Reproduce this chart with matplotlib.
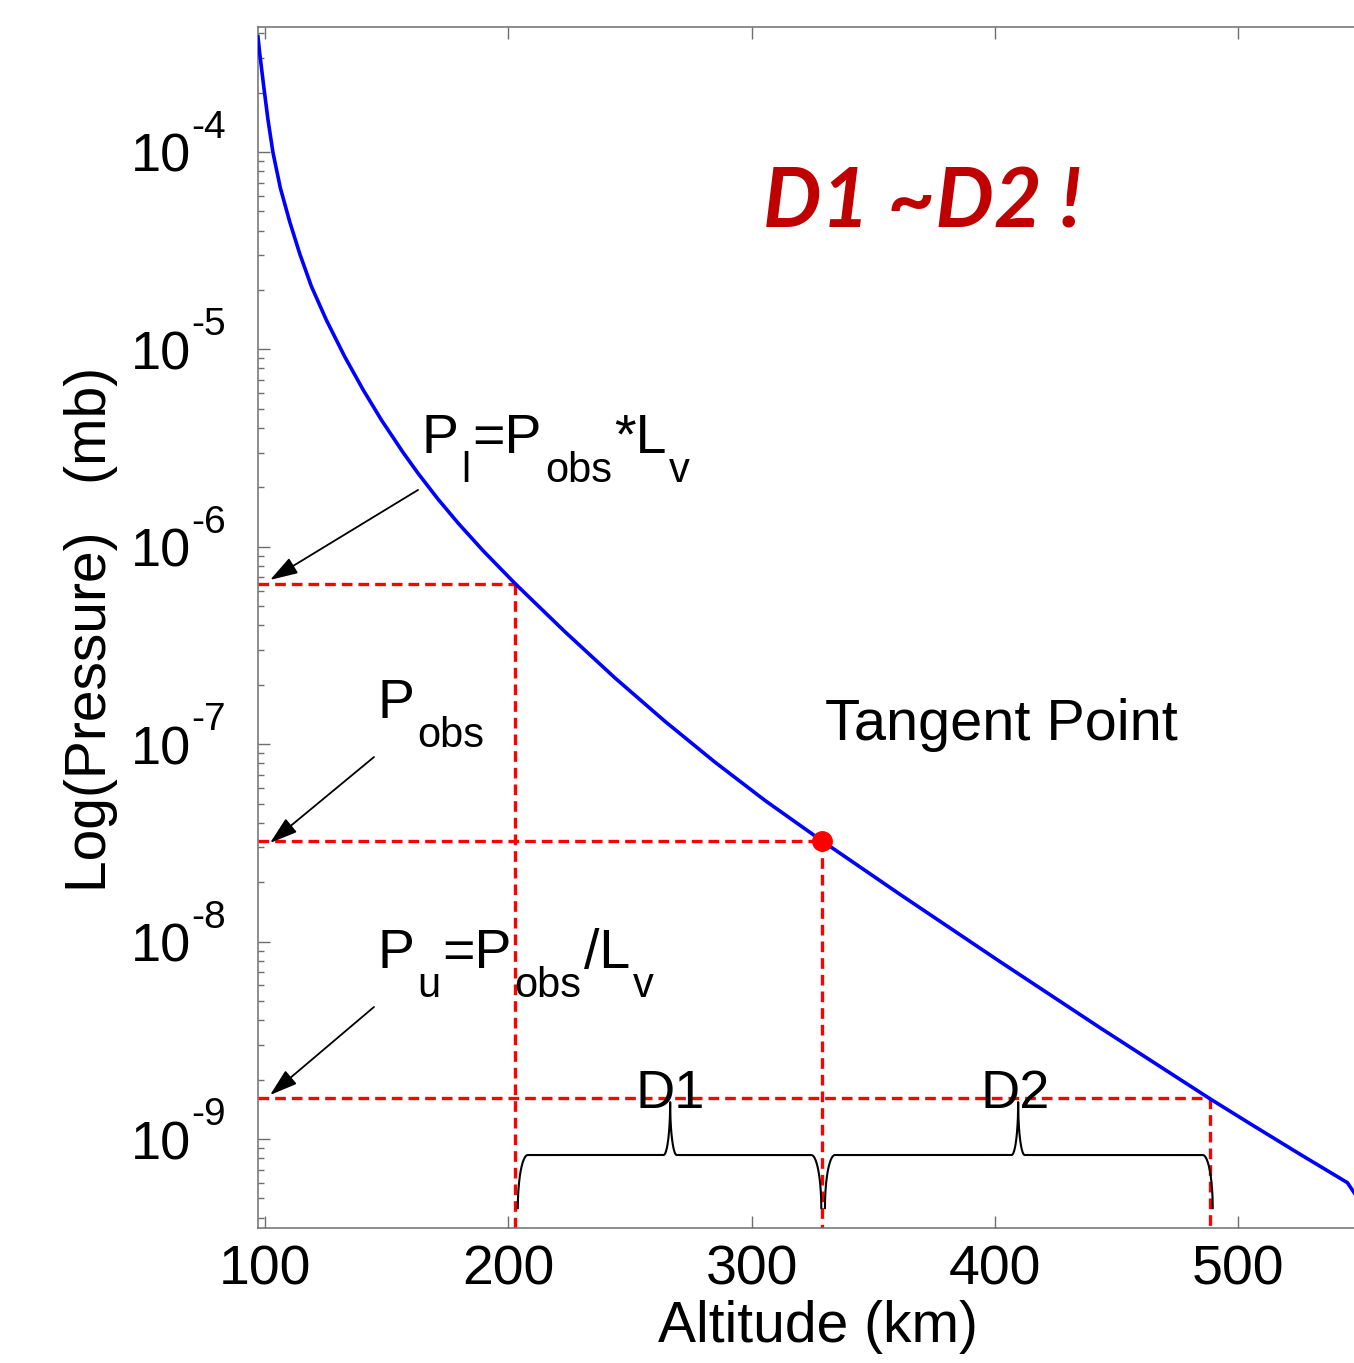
import numpy as np
import matplotlib
matplotlib.use("Agg")
import matplotlib.pyplot as plt
from matplotlib.ticker import LogLocator, NullLocator, FixedLocator
from matplotlib.transforms import offset_copy

plt.rcParams["font.family"] = ["Liberation Sans", "DejaVu Sans"]

# pressure profile (altitude km, log10 pressure mb)
altitude = [97.12, 97.82, 99.47, 101.23, 103.29, 106.33, 110.16, 114.27, 119.08, 125.25,
            132.77, 140.30, 147.86, 156.74, 162.91, 171.13, 179.36, 189.64, 202.67, 223.23,
            243.79, 264.35, 284.91, 305.47, 328.91, 360.98, 402.10, 443.22, 488.45, 504.90,
            525.45, 544.78, 547.66]
log_pressure = [-3.416, -3.498, -3.666, -3.836, -4.003, -4.183, -4.353, -4.515, -4.681, -4.852,
                -5.037, -5.204, -5.358, -5.522, -5.628, -5.759, -5.880, -6.020, -6.185, -6.430,
                -6.664, -6.884, -7.091, -7.285, -7.490, -7.761, -8.102, -8.437, -8.797, -8.923,
                -9.078, -9.221, -9.274]
pressure = [10 ** v for v in log_pressure]

# tangent point and the two limits
P_obs = 10 ** -7.49
L_v = 20.0
P_l = P_obs * L_v
P_u = P_obs / L_v
z_l, z_tan, z_u = 202.7, 328.9, 488.45

x_ticks = [100, 200, 300, 400, 500]
y_decades = [-4, -5, -6, -7, -8, -9]
xlim = (97, 550)
ylim = (10 ** -9.451, 10 ** -3.367)

RED = "#ff0000"
GREY = "#6e6e6e"


def brace(ax, x0, x1, xm, yb, yh, yt, r_end=4.1, r_mid=2.7):
    """Curly brace in (linear x, log10 y) space, tip pointing up."""
    th = np.linspace(0, np.pi / 2, 40)
    xa = x0 + r_end * (1 - np.cos(th))
    ya = yb + (yh - yb) * np.sin(th)
    xb = xm - r_mid + r_mid * np.sin(th)
    yb2 = yh + (yt - yh) * (1 - np.cos(th))
    xc = xm + r_mid - r_mid * np.sin(th[::-1])
    yc = yh + (yt - yh) * (1 - np.cos(th[::-1]))
    xd = x1 - r_end * (1 - np.cos(th[::-1]))
    yd = yb + (yh - yb) * np.sin(th[::-1])
    xs = np.concatenate([xa, xb, xc, xd])
    ys = np.concatenate([ya, yb2, yc, yd])
    ax.plot(xs, 10 ** ys, color="black", lw=1.5, zorder=4)


def chain_text(ax, x, y, pieces, renderer):
    """Write pieces (text, size, dy in px) one after the other, TeX-like subscripts."""
    dx = 0.0
    for s, size, dy in pieces:
        tr = offset_copy(ax.transData, fig=ax.figure, x=dx, y=dy, units="dots")
        t = ax.text(x, y, s, fontsize=size, transform=tr, ha="left", va="baseline", zorder=6)
        dx += t.get_window_extent(renderer).width + size * 0.07


fig = plt.figure(figsize=(13.54, 13.63), dpi=100)
renderer = fig.canvas.get_renderer()
ax = fig.add_axes([0.1903, 0.0990, 0.8142, 0.8812])
ax.set_yscale("log")
ax.set_xlim(*xlim)
ax.set_ylim(*ylim)

ax.plot(altitude, pressure, color="#0000ff", lw=2.6, zorder=3)

dash = dict(color=RED, lw=2.4, dashes=(3.2, 1.8), zorder=2)
for z, p in [(z_l, P_l), (z_tan, P_obs), (z_u, P_u)]:
    ax.plot([xlim[0], z], [p, p], **dash)
    ax.plot([z, z], [p, ylim[0]], **dash)

ax.plot([z_tan], [P_obs], "o", color=RED, ms=14, zorder=5)

# braces under the two distances
brace(ax, z_l + 1.2, z_tan - 0.3, 266.5, -9.350, -9.081, -8.813)
brace(ax, z_tan + 1.2, z_u + 1.0, 409.5, -9.350, -9.081, -8.813)
ax.text(266.5, 10 ** -8.843, "D1", fontsize=39, ha="center", va="baseline", zorder=6)
ax.text(408.3, 10 ** -8.843, "D2", fontsize=39, ha="center", va="baseline", zorder=6)

# labels with arrows
arrow = dict(arrowstyle="-|>,head_length=0.85,head_width=0.27", color="black",
             lw=1.3, mutation_scale=20, shrinkA=0, shrinkB=0)
ax.annotate("", xy=(102.1, 10 ** -6.168), xytext=(162.9, 10 ** -5.712), arrowprops=arrow)
ax.annotate("", xy=(102.1, 10 ** -7.500), xytext=(144.8, 10 ** -7.065), arrowprops=arrow)
ax.annotate("", xy=(102.1, 10 ** -8.777), xytext=(144.8, 10 ** -8.331), arrowprops=arrow)

SUB = -29
chain_text(ax, 164.4, 10 ** -5.525,
           [("P", 40, 0), ("l", 30, SUB), ("=P", 40, 0), ("obs", 30, SUB),
            ("*L", 40, 0), ("v", 30, SUB)], renderer)
chain_text(ax, 146.3, 10 ** -6.867, [("P", 40, 0), ("obs", 30, SUB)], renderer)
chain_text(ax, 146.3, 10 ** -8.134,
           [("P", 40, 0), ("u", 30, SUB), ("=P", 40, 0), ("obs", 30, SUB),
            ("/L", 40, 0), ("v", 30, SUB)], renderer)

ax.text(330.2, 10 ** -6.979, "Tangent Point", fontsize=41.5, va="baseline", ha="left")
ax.text(304.5, 10 ** -4.385, "D1 ~D2 !", fontsize=59.5, va="baseline", ha="left",
        color="#c00000", fontweight="bold", fontstyle="italic", family=["Lato", "DejaVu Sans"])

ax.xaxis.set_major_locator(FixedLocator(x_ticks))
ax.xaxis.set_minor_locator(NullLocator())
ax.yaxis.set_major_locator(FixedLocator([10.0 ** e for e in y_decades]))
ax.yaxis.set_minor_locator(LogLocator(base=10, subs=np.arange(2, 10), numticks=20))

ax.tick_params(which="both", direction="in", top=True, right=False, color=GREY, width=1.0)
ax.tick_params(which="major", length=8.5)
ax.tick_params(which="minor", length=4.3)
ax.tick_params(axis="x", labelsize=40, pad=12)
ax.tick_params(axis="y", labelleft=False)

# y tick labels as "10" with a raised exponent
ytr = ax.get_yaxis_transform()
for e in y_decades:
    ax.text(0, 10.0 ** e, "10", fontsize=39, ha="right", va="baseline",
            transform=offset_copy(ytr, fig=fig, x=-67, y=-20, units="dots"))
    ax.text(0, 10.0 ** e, str(e), fontsize=28, ha="left", va="baseline",
            transform=offset_copy(ytr, fig=fig, x=-66, y=14, units="dots"))

for side in ["left", "bottom", "top"]:
    ax.spines[side].set_color(GREY)
    ax.spines[side].set_linewidth(1.1)
ax.spines["right"].set_visible(False)

ax.set_xlabel("Altitude (km)", fontsize=41, labelpad=2, x=0.508)
ax.set_ylabel("Log(Pressure)   (mb)", fontsize=41)
ax.yaxis.set_label_coords(-0.127, 0.498)

fig.savefig("out.png", dpi=100, facecolor="white")
plt.close(fig)
